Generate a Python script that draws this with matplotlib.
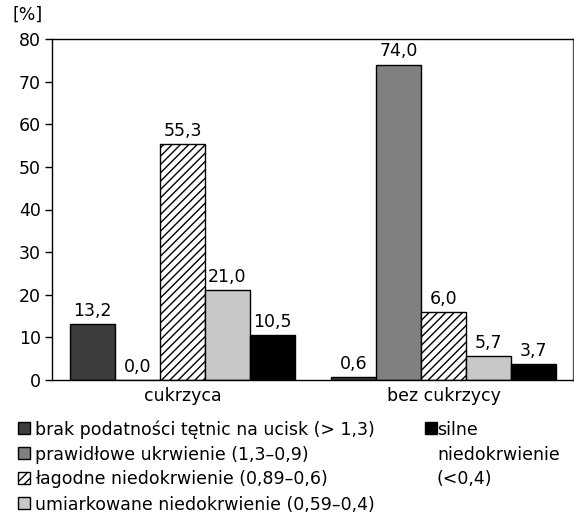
import matplotlib
matplotlib.use("Agg")
import matplotlib.pyplot as plt
from matplotlib.patches import Rectangle
import numpy as np

plt.rcParams['font.family'] = ['DejaVu Sans']
plt.rcParams['hatch.linewidth'] = 1.0
FS = 12.5

groups = ["cukrzyca", "bez cukrzycy"]
series = [
    "brak podatności tętnic na ucisk (> 1,3)",
    "prawidłowe ukrwienie (1,3–0,9)",
    "łagodne niedokrwienie (0,89–0,6)",
    "umiarkowane niedokrwienie (0,59–0,4)",
    "silne\nniedokrwienie\n(<0,4)",
]
values_cukrzyca = [13.2, 0.0, 55.3, 21.0, 10.5]
values_bez = [0.6, 74.0, 16.0, 5.7, 3.7]
labels_cukrzyca = ["13,2", "0,0", "55,3", "21,0", "10,5"]
labels_bez = ["0,6", "74,0", "6,0", "5,7", "3,7"]
yticks = [0, 10, 20, 30, 40, 50, 60, 70, 80]

colors = ["#3c3c3c", "#808080", "white", "#c8c8c8", "black"]
hatches = [None, None, "////", None, None]

W, H = 574, 517
fig = plt.figure(figsize=(W / 100, H / 100), dpi=100)
ax = fig.add_axes([52 / W, 1 - 380 / H, 521 / W, 341 / H])

x = np.arange(len(groups))
w = 0.172
for i in range(5):
    vals = [values_cukrzyca[i], values_bez[i]]
    labs = [labels_cukrzyca[i], labels_bez[i]]
    pos = x + (i - 2) * w
    ax.bar(pos, vals, w, color=colors[i], edgecolor="black", linewidth=1.0,
           hatch=hatches[i])
    for p, v, l in zip(pos, vals, labs):
        ax.annotate(l, (p, v), xytext=(0, 3), textcoords="offset points",
                    ha="center", va="bottom", fontsize=FS)

ax.set_xlim(-0.5, 1.495)
ax.set_ylim(0, 80)
ax.set_yticks(yticks)
ax.set_xticks(x)
ax.set_xticklabels(groups, fontsize=FS)
ax.tick_params(axis="x", length=0, pad=5)
ax.tick_params(axis="y", length=5, width=1, labelsize=FS, pad=3)
for s in ax.spines.values():
    s.set_linewidth(1.0)
ax.spines["right"].set_color("#555555")

fig.text(12 / W, 1 - 15 / H, "[%]", fontsize=FS, ha="left", va="center")

# legend drawn manually
def px(xp, yp):
    return xp / W, 1 - yp / H

row_y = [428, 452.5, 477.5, 502.5]
for i in range(4):
    yc = row_y[i]
    x0, y0 = px(18, yc + 6)
    fig.add_artist(Rectangle((x0, y0), 12 / W, 12 / H, transform=fig.transFigure,
                             facecolor=colors[i], edgecolor="black", linewidth=1.0,
                             hatch=hatches[i]))
    tx, ty = px(35, yc)
    fig.text(tx, ty, series[i], fontsize=FS, ha="left", va="center_baseline")

lines5 = series[4].split("\n")
x0, y0 = px(425, row_y[0] + 6)
fig.add_artist(Rectangle((x0, y0), 12 / W, 12 / H, transform=fig.transFigure,
                         facecolor=colors[4], edgecolor="black", linewidth=1.0))
for j, line in enumerate(lines5):
    tx, ty = px(437, row_y[j])
    fig.text(tx, ty, line, fontsize=FS, ha="left", va="center_baseline")

fig.savefig("out.png", dpi=100)
